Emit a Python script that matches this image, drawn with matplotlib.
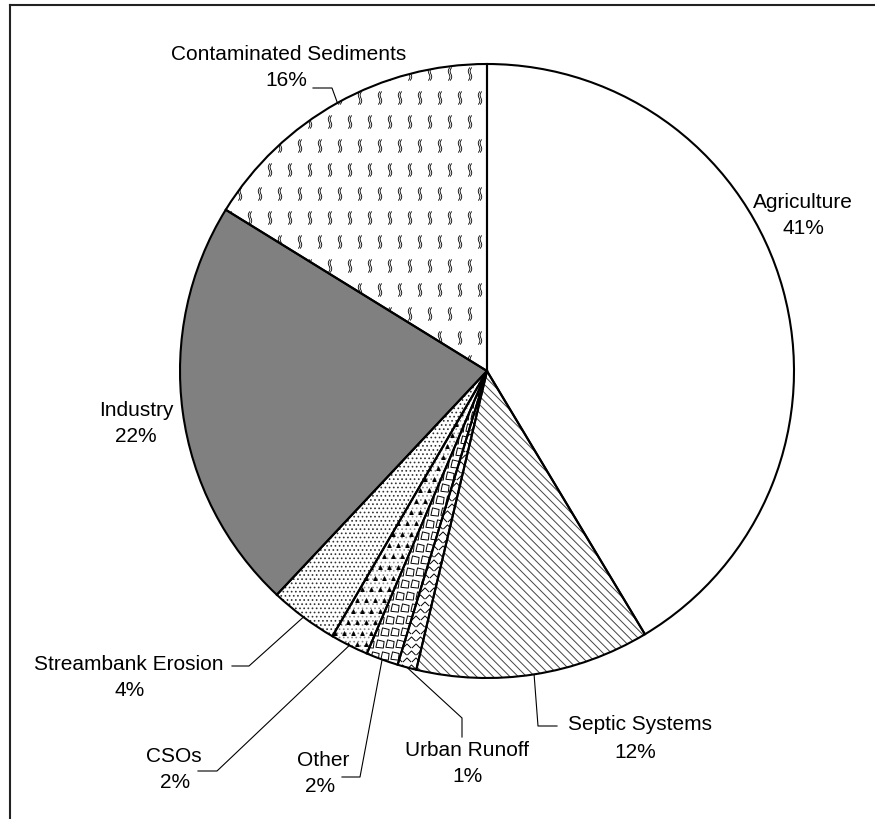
import matplotlib
matplotlib.use("Agg")
import matplotlib.pyplot as plt
import numpy as np
from matplotlib.path import Path
from matplotlib.patches import Wedge
from matplotlib.lines import Line2D

plt.rcParams["font.family"] = ["Liberation Sans", "DejaVu Sans"]
plt.rcParams["hatch.linewidth"] = 0.7

# data, clockwise from 12 o'clock
sources = ["Agriculture", "Septic Systems", "Urban Runoff", "Other", "CSOs",
           "Streambank Erosion", "Industry", "Contaminated Sediments"]
shares = [41.4, 12.3, 1.0, 1.7, 2.0, 3.6, 21.8, 16.2]
pct_labels = ["41%", "12%", "1%", "2%", "2%", "4%", "22%", "16%"]

W, H = 875, 819
CX, CY, R = 487, 371, 307

def Y(y):
    return H - y

# label layout (pixel coords, y from top): name line, pct line
name_xy = [(803, 203), (640, 725), (467, 750), (323, 761), (174, 756),
           (129, 665), (136, 410), (289, 55)]
pct_xy = [(803, 228), (635, 752), (467, 776), (320, 787), (175, 782),
          (130, 690), (136, 436), (286, 80)]
# leader elbows: None = no leader
leaders = [None,
           [(538, 726), (557, 726)],
           [(462, 718), (462, 737)],
           [(360, 777), (342, 777)],
           [(217, 771), (198, 771)],
           [(249, 666), (232, 666)],
           None,
           [(332, 88), (313, 88)]]

fills = ["white", "white", "white", "white", "white", "white", "#808080", "white"]
# (hatch, hatch colour) drawn on a separate overlay
hatches = [None, ("\\\\\\\\", "#444444"), None, None, ("....", "#888888"),
           ("....", "#333333"), None, None]

fig = plt.figure(figsize=(W / 100, H / 100), dpi=100)
ax = fig.add_axes([0, 0, 1, 1])

wedges, _ = ax.pie(shares, startangle=90, counterclock=False, center=(CX, Y(CY)),
                   radius=R, colors=fills,
                   wedgeprops=dict(edgecolor="black", linewidth=1.5, zorder=5))
for w in wedges:
    w.set_facecolor("none")

# fills underneath, textures in between, outlines on top
for w, f, h in zip(wedges, fills, hatches):
    ax.add_patch(Wedge(w.center, w.r, w.theta1, w.theta2, facecolor=f,
                       edgecolor="none", zorder=1))
    if h:
        ax.add_patch(Wedge(w.center, w.r, w.theta1, w.theta2, facecolor="none",
                           edgecolor=h[1], linewidth=0, hatch=h[0], zorder=2))

ax.set_xlim(0, W)
ax.set_ylim(0, H)
ax.set_aspect("auto")
ax.axis("off")


def squiggle():
    t = np.linspace(0, 1, 20)
    x = 0.09 * np.sin(2 * np.pi * t) + 0.12 * (t - 0.5)
    y = t - 0.5
    verts, codes = [], []
    for off in (-0.07, 0.07):
        pts = np.column_stack([x + off, y])
        verts.extend(pts)
        codes.extend([Path.MOVETO] + [Path.LINETO] * (len(pts) - 1))
    return Path(verts, codes)


def chevron():
    return Path([(-1, -0.5), (0, 0.5), (1, -0.5)],
                [Path.MOVETO, Path.LINETO, Path.LINETO])


def chip():
    return Path([(-0.5, -0.4), (0.4, -0.5), (0.5, 0.3), (-0.3, 0.5), (-0.5, -0.4)],
                [Path.MOVETO, Path.LINETO, Path.LINETO, Path.LINETO, Path.CLOSEPOLY])


def texture(clip, x0, x1, y0, y1, dx, dy, marker, s, lw, color="black", fill="none"):
    gx, gy = np.meshgrid(np.arange(x0, x1, dx), np.arange(y0, y1, dy))
    gx = gx + (np.arange(gx.shape[0])[:, None] % 2) * dx / 2
    sc = ax.scatter(gx.ravel(), Y(gy.ravel()), marker=marker, s=s,
                    facecolors=fill, edgecolors=color, linewidths=lw, zorder=3)
    sc.set_clip_path(clip)


# squiggles for contaminated sediments
texture(wedges[7], 160, 500, 50, 390, 20, 24, squiggle(), 90, 0.6)
# chevrons for urban runoff
texture(wedges[2], 380, 480, 380, 690, 9, 7, chevron(), 35, 0.7)
# chips for other
texture(wedges[3], 360, 490, 380, 690, 10, 12, chip(), 35, 0.7)
# flecks for CSOs
texture(wedges[4], 330, 490, 380, 690, 9, 11, "^", 8, 0.4, fill="black")

# labels and leaders
for i, w in enumerate(wedges):
    ax.text(name_xy[i][0], Y(name_xy[i][1]), sources[i], ha="center", va="center",
            fontsize=15, color="black")
    ax.text(pct_xy[i][0], Y(pct_xy[i][1]), pct_labels[i], ha="center", va="center",
            fontsize=15, color="black")
    if leaders[i] is not None:
        mid = np.deg2rad((w.theta1 + w.theta2) / 2)
        ax0 = CX + R * np.cos(mid)
        ay0 = Y(CY) + R * np.sin(mid)
        xs = [ax0] + [p[0] for p in leaders[i]]
        ys = [ay0] + [Y(p[1]) for p in leaders[i]]
        ax.plot(xs, ys, color="black", linewidth=0.8, zorder=6)

# frame on top and left
fig.add_artist(Line2D([10 / W, 1], [Y(5) / H, Y(5) / H], color="#222222", linewidth=1.5))
fig.add_artist(Line2D([10 / W, 10 / W], [0, Y(5) / H], color="#222222", linewidth=1.5))

fig.savefig("out.png", dpi=100)
